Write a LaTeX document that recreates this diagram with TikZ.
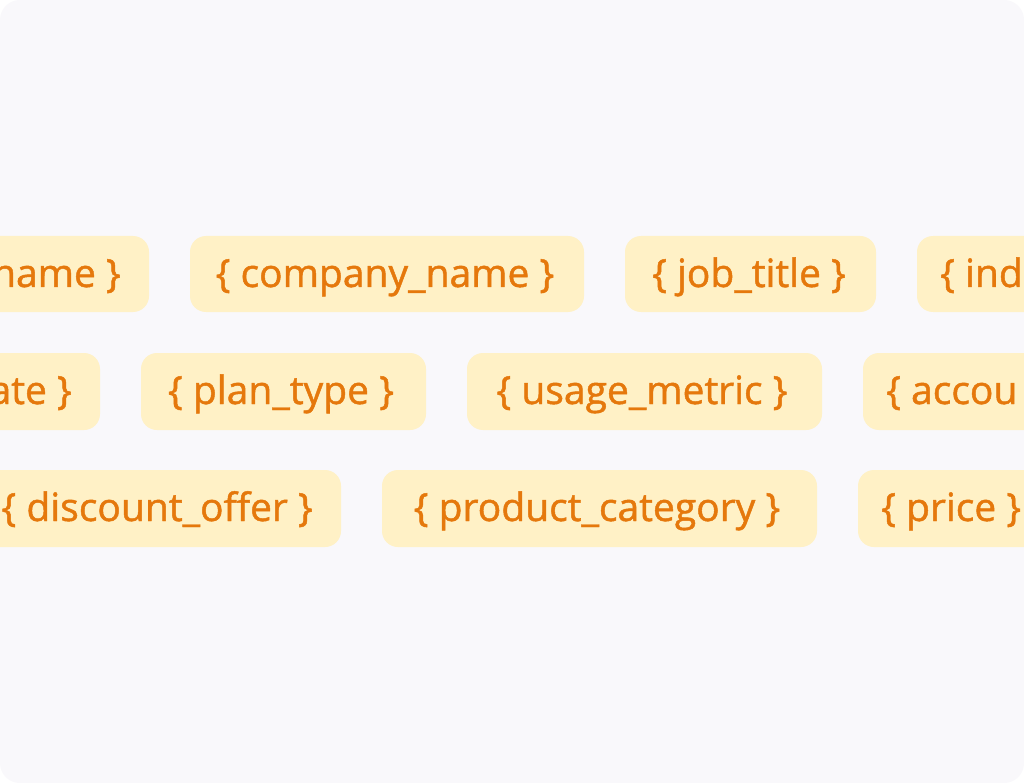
\documentclass[tikz,border=0pt]{standalone}
\usepackage{fontspec}
\setmainfont{Open Sans}[RawFeature={embolden=1.2}]
\definecolor{bgc}{HTML}{F9F8FB}
\definecolor{pillc}{HTML}{FFF1C6}
\definecolor{tagc}{HTML}{E5780C}
\begin{document}
\begin{tikzpicture}[x=1pt,y=-1pt,
  pill/.style={fill=pillc, rounded corners=16pt},
  tag/.style={text=tagc, font=\fontsize{39}{42}\selectfont, inner sep=0pt}]
\useasboundingbox (0,0) rectangle (1024,783);
\fill[white] (0,0) rectangle (1024,783);
\fill[bgc, rounded corners=20pt] (0,0) rectangle (1024,783);
\begin{scope}
\clip (0,0) rectangle (1024,783);
% row one
\fill[pill] (-60,236) rectangle (149,312);
\node[tag, anchor=base east] (fname) at (121,287) {name \}};
\fill[pill] (190,236) rectangle (584,312);
\node[tag, anchor=base] (cname) at (385,287) {\{ company\_name \}};
\fill[pill] (625,236) rectangle (876,312);
\node[tag, anchor=base] (jtitle) at (749,287) {\{ job\_title \}};
\fill[pill] (917,236) rectangle (1080,312);
\node[tag, anchor=base west] (ind) at (940,287) {\{ ind};
% row two
\fill[pill] (-60,353) rectangle (100,430);
\node[tag, anchor=base east] (sdate) at (72,404) {ate \}};
\fill[pill] (141,353) rectangle (426,430);
\node[tag, anchor=base] (ptype) at (281,404) {\{ plan\_type \}};
\fill[pill] (467,353) rectangle (822,430);
\node[tag, anchor=base] (umetric) at (642,404) {\{ usage\_metric \}};
\fill[pill] (863,353) rectangle (1080,430);
\node[tag, anchor=base west] (accou) at (886,404) {\{ accou};
% row three
\fill[pill] (-60,470) rectangle (341,547);
\node[tag, anchor=base east] (doffer) at (313,521) {\{ discount\_offer \}};
\fill[pill] (382,470) rectangle (817,547);
\node[tag, anchor=base] (pcat) at (597,521) {\{ product\_category \}};
\fill[pill] (858,470) rectangle (1080,547);
\node[tag, anchor=base west] (price) at (881,521) {\{ price \}};
\end{scope}
\end{tikzpicture}
\end{document}
